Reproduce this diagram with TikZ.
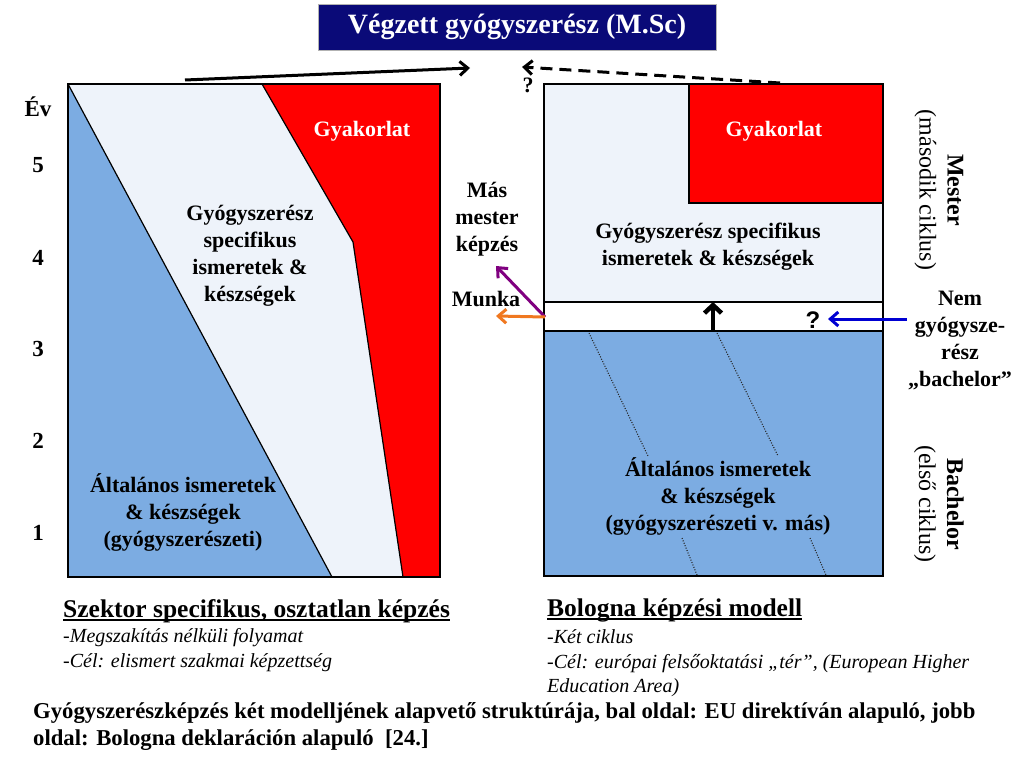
\documentclass[tikz,border=0pt]{standalone}
\usepackage{fontspec}
\setmainfont{Liberation Serif}
\newfontfamily\qsans{Liberation Sans}
\usetikzlibrary{arrows.meta}
\definecolor{bblue}{RGB}{124,172,226}
\definecolor{lfill}{RGB}{238,243,250}
\definecolor{rred}{RGB}{255,0,0}
\definecolor{navy}{RGB}{10,10,120}
\definecolor{purp}{RGB}{128,0,128}
\definecolor{orng}{RGB}{240,120,32}
\definecolor{barrow}{RGB}{0,0,210}
\tikzset{
  txt/.style={font=\bfseries\fontsize{22}{27}\selectfont, align=center, inner sep=0pt},
  num/.style={font=\bfseries\fontsize{23}{27}\selectfont, inner sep=0pt},
  side/.style={font=\fontsize{24}{28}\selectfont, align=center, inner sep=0pt, rotate=-90},
  head/.style={font=\bfseries\fontsize{25.5}{30}\selectfont, anchor=base west, inner sep=0pt},
  itl/.style={font=\itshape\fontsize{20}{25}\selectfont, anchor=base west, inner sep=0pt},
  capt/.style={font=\bfseries\fontsize{22.7}{27}\selectfont, anchor=base west, inner sep=0pt},
  outline/.style={draw=black, line width=1.5pt},
  uline/.style={draw=black, line width=1.6pt},
  arr/.style={line width=3pt, -{Straight Barb[length=8pt,width=14pt]}},
  dotl/.style={draw=black!85, line width=1.1pt, dash pattern=on 1pt off 1.6pt},
}
\begin{document}
\begin{tikzpicture}[x=1pt,y=-1pt]
\useasboundingbox[fill=white] (0,0) rectangle (1024,768);

% title
\node[fill=navy, draw=gray!60, line width=0.8pt, minimum width=398pt, minimum height=46pt, inner sep=0pt,
  text=white, font=\bfseries\fontsize{28}{32}\selectfont] (title) at (517,27) {Végzett gyógyszerész (M.Sc)};

% ---------- left diagram ----------
\fill[lfill] (68,84) rectangle (440,577);
\fill[bblue] (68,84) -- (332,577) -- (68,577) -- cycle;
\fill[rred] (262,84) -- (353,242) -- (403,577) -- (440,577) -- (440,84) -- cycle;
\draw[black, line width=1.2pt] (68,84) -- (332,577);
\draw[black, line width=1.2pt] (262,84) -- (353,242) -- (403,577);
\draw[outline] (68,84) rectangle (440,577);

\node[num] (ev) at (38,107) {Év};
\node[num] (y5) at (38,165) {5};
\node[num] (y4) at (38,258) {4};
\node[num] (y3) at (38,349) {3};
\node[num] (y2) at (38,441) {2};
\node[num] (y1) at (38,533) {1};

\node[txt, text=white] (gyakL) at (362,131) {Gyakorlat};
\node[txt] (specL) at (250,256) {Gyógyszerész\\specifikus\\ismeretek \&\\készségek};
\node[txt] (altL) at (183,512) {Általános ismeretek\\\& készségek\\(gyógyszerészeti)};

% ---------- right diagram ----------
\fill[lfill] (544,84) rectangle (883,302);
\fill[rred] (689,84) rectangle (883,203);
\draw[outline] (689,84) rectangle (883,203);
\fill[white] (544,302) rectangle (883,331);
\fill[bblue] (544,331) rectangle (883,576);
\draw[outline] (544,302) -- (883,302);
\draw[outline] (544,331) -- (883,331);
\draw[outline] (544,84) rectangle (883,576);

\draw[dotl] (589,333) -- (648,456);
\draw[dotl] (717,333) -- (778,456);
\draw[dotl] (682,538) -- (697,575);
\draw[dotl] (810,538) -- (826,575);

\node[txt, text=white] (gyakR) at (774,131) {Gyakorlat};
\node[txt] (specR) at (708,247) {Gyógyszerész specifikus\\ismeretek \& készségek};
\node[txt] (altR) at (718,496) {Általános ismeretek\\\& készségek\\(gyógyszerészeti v. más)};

\node[font=\qsans\bfseries\fontsize{24}{28}\selectfont, inner sep=0pt] (q2) at (813,320) {?};

\node[side] (mester) at (939,190) {\textbf{Mester}\\(második ciklus)};
\node[side] (bach) at (939,504) {\textbf{Bachelor}\\(első ciklus)};
\node[txt] (nem) at (960,340) {Nem\\gyógysze-\\rész\\„bachelor”};

\node[txt] (mas) at (487,219) {Más\\mester\\képzés};
\node[txt] (munka) at (486,299) {Munka};
\node[font=\bfseries\fontsize{22}{27}\selectfont, inner sep=0pt] (q1) at (528,85) {?};

% arrows
\coordinate (la1) at (185,80);
\coordinate (la2) at (470,68);
\draw[arr] (la1) -- (la2);
\coordinate (ra1) at (780,83);
\coordinate (ra2) at (522,67);
\draw[arr, dash pattern=on 12pt off 7pt] (ra1) -- (ra2);
\coordinate (up1) at (713,331);
\coordinate (up2) at (713,302);
\draw[line width=4.5pt, -{Straight Barb[length=8pt,width=17pt]}] (up1) -- (up2);
\coordinate (bl1) at (907,319);
\coordinate (bl2) at (828,319);
\draw[arr, barrow] (bl1) -- (bl2);
\coordinate (ms) at (545,317);
\coordinate (pe) at (496,266);
\coordinate (oe) at (496,316);
\draw[arr, purp] (ms) -- (pe);
\draw[arr, orng] (ms) -- (oe);

% bottom texts
\node[head] (h1) at (63,617) {Szektor specifikus, osztatlan képzés};
\draw[uline] ([yshift=-3pt]h1.base west) -- ([yshift=-3pt]h1.base east);
\node[itl] (i11) at (63,642) {-Megszakítás nélküli folyamat};
\node[itl] (i12) at (63,667) {-Cél: elismert szakmai képzettség};
\node[head] (h2) at (547,616) {Bologna képzési modell};
\draw[uline] ([yshift=-3pt]h2.base west) -- ([yshift=-3pt]h2.base east);
\node[itl] (i21) at (547,643) {-Két ciklus};
\node[itl] (i22) at (547,668) {-Cél: európai felsőoktatási „tér”, (European Higher};
\node[itl] (i23) at (547,692) {Education Area)};
\node[capt] (c1) at (33,718) {Gyógyszerészképzés két modelljének alapvető struktúrája, bal oldal: EU direktíván alapuló, jobb};
\node[capt] (c2) at (33,745) {oldal: Bologna deklaráción alapuló\ \ [24.]};
\end{tikzpicture}
\end{document}
